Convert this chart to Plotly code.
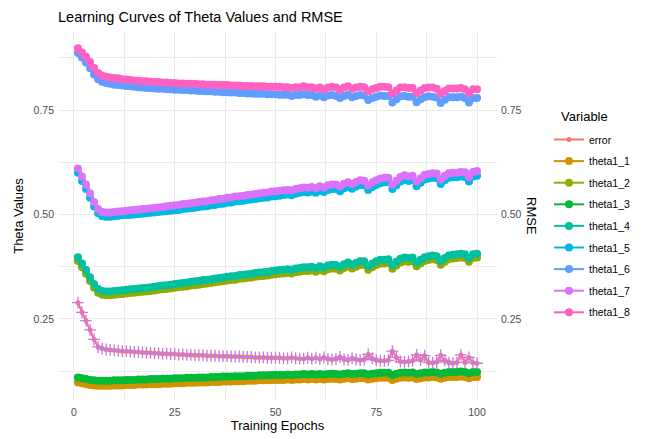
import plotly.graph_objects as go

epochs = list(range(1, 101))

error = [
    0.289, 0.266, 0.246, 0.224, 0.201, 0.183, 0.179, 0.177, 0.176, 0.175,
    0.174, 0.173, 0.173, 0.172, 0.171, 0.171, 0.170, 0.169, 0.169, 0.168,
    0.168, 0.167, 0.167, 0.166, 0.166, 0.165, 0.165, 0.164, 0.164, 0.163,
    0.163, 0.163, 0.162, 0.162, 0.162, 0.161, 0.161, 0.161, 0.160, 0.160,
    0.160, 0.159, 0.159, 0.159, 0.158, 0.158, 0.158, 0.157, 0.157, 0.157,
    0.157, 0.156, 0.156, 0.158, 0.156, 0.155, 0.155, 0.157, 0.155, 0.157,
    0.154, 0.158, 0.154, 0.153, 0.154, 0.159, 0.153, 0.152, 0.156, 0.153,
    0.151, 0.153, 0.165, 0.156, 0.151, 0.150, 0.150, 0.151, 0.173, 0.158,
    0.148, 0.147, 0.148, 0.150, 0.164, 0.152, 0.162, 0.146, 0.145, 0.147,
    0.163, 0.151, 0.145, 0.144, 0.146, 0.164, 0.146, 0.158, 0.145, 0.144,
]

theta1_1 = [
    0.098, 0.096, 0.094, 0.092, 0.091, 0.090, 0.090, 0.090, 0.090, 0.091,
    0.091, 0.091, 0.092, 0.092, 0.092, 0.093, 0.093, 0.093, 0.094, 0.094,
    0.094, 0.095, 0.095, 0.095, 0.096, 0.096, 0.096, 0.097, 0.097, 0.097,
    0.098, 0.098, 0.098, 0.099, 0.099, 0.099, 0.100, 0.100, 0.100, 0.101,
    0.101, 0.101, 0.102, 0.102, 0.102, 0.103, 0.103, 0.103, 0.104, 0.104,
    0.104, 0.104, 0.105, 0.104, 0.105, 0.105, 0.106, 0.105, 0.106, 0.105,
    0.106, 0.105, 0.106, 0.107, 0.106, 0.105, 0.107, 0.108, 0.106, 0.107,
    0.108, 0.108, 0.105, 0.107, 0.108, 0.109, 0.109, 0.109, 0.104, 0.107,
    0.109, 0.110, 0.109, 0.110, 0.106, 0.108, 0.110, 0.110, 0.111, 0.110,
    0.107, 0.109, 0.111, 0.111, 0.111, 0.112, 0.111, 0.108, 0.111, 0.111,
]

theta1_2 = [
    0.389, 0.374, 0.358, 0.341, 0.325, 0.313, 0.308, 0.307, 0.307, 0.308,
    0.309, 0.310, 0.311, 0.312, 0.313, 0.314, 0.315, 0.316, 0.317, 0.318,
    0.320, 0.321, 0.322, 0.323, 0.325, 0.326, 0.327, 0.328, 0.330, 0.331,
    0.332, 0.334, 0.335, 0.336, 0.338, 0.339, 0.340, 0.342, 0.343, 0.344,
    0.346, 0.347, 0.348, 0.349, 0.351, 0.352, 0.353, 0.354, 0.356, 0.357,
    0.358, 0.359, 0.360, 0.359, 0.362, 0.363, 0.365, 0.365, 0.366, 0.363,
    0.367, 0.364, 0.369, 0.371, 0.370, 0.366, 0.372, 0.376, 0.371, 0.375,
    0.379, 0.379, 0.368, 0.374, 0.379, 0.383, 0.383, 0.384, 0.370, 0.378,
    0.385, 0.388, 0.387, 0.388, 0.376, 0.383, 0.389, 0.391, 0.393, 0.391,
    0.380, 0.387, 0.393, 0.395, 0.396, 0.397, 0.396, 0.387, 0.396, 0.397,
]

theta1_3 = [
    0.110, 0.108, 0.106, 0.104, 0.103, 0.102, 0.102, 0.102, 0.102, 0.103,
    0.103, 0.103, 0.104, 0.104, 0.104, 0.105, 0.105, 0.105, 0.106, 0.106,
    0.106, 0.107, 0.107, 0.107, 0.108, 0.108, 0.108, 0.109, 0.109, 0.109,
    0.110, 0.110, 0.110, 0.111, 0.111, 0.111, 0.112, 0.112, 0.112, 0.113,
    0.113, 0.113, 0.114, 0.114, 0.114, 0.115, 0.115, 0.115, 0.116, 0.116,
    0.116, 0.116, 0.117, 0.116, 0.117, 0.117, 0.118, 0.117, 0.118, 0.117,
    0.118, 0.117, 0.118, 0.119, 0.118, 0.117, 0.119, 0.120, 0.118, 0.119,
    0.120, 0.120, 0.117, 0.119, 0.120, 0.121, 0.121, 0.121, 0.116, 0.119,
    0.121, 0.122, 0.121, 0.122, 0.118, 0.120, 0.122, 0.122, 0.123, 0.122,
    0.119, 0.121, 0.123, 0.123, 0.123, 0.124, 0.123, 0.120, 0.123, 0.123,
]

theta1_4 = [
    0.398, 0.383, 0.367, 0.350, 0.334, 0.322, 0.317, 0.316, 0.316, 0.317,
    0.318, 0.319, 0.320, 0.321, 0.322, 0.323, 0.324, 0.325, 0.326, 0.327,
    0.329, 0.330, 0.331, 0.332, 0.334, 0.335, 0.336, 0.337, 0.339, 0.340,
    0.341, 0.343, 0.344, 0.345, 0.347, 0.348, 0.349, 0.351, 0.352, 0.353,
    0.355, 0.356, 0.357, 0.358, 0.360, 0.361, 0.362, 0.363, 0.365, 0.366,
    0.367, 0.368, 0.369, 0.368, 0.371, 0.372, 0.374, 0.374, 0.375, 0.372,
    0.376, 0.373, 0.378, 0.380, 0.379, 0.375, 0.381, 0.385, 0.380, 0.384,
    0.388, 0.388, 0.377, 0.383, 0.388, 0.392, 0.392, 0.393, 0.379, 0.387,
    0.394, 0.397, 0.396, 0.397, 0.385, 0.392, 0.398, 0.400, 0.402, 0.400,
    0.389, 0.396, 0.402, 0.404, 0.405, 0.406, 0.405, 0.396, 0.405, 0.406,
]

theta1_5 = [
    0.600, 0.580, 0.561, 0.540, 0.519, 0.503, 0.496, 0.495, 0.495, 0.496,
    0.497, 0.498, 0.499, 0.499, 0.500, 0.501, 0.502, 0.503, 0.504, 0.505,
    0.506, 0.507, 0.508, 0.509, 0.510, 0.511, 0.513, 0.514, 0.515, 0.516,
    0.518, 0.519, 0.520, 0.522, 0.523, 0.525, 0.526, 0.528, 0.529, 0.531,
    0.532, 0.533, 0.535, 0.536, 0.537, 0.539, 0.540, 0.541, 0.543, 0.544,
    0.545, 0.547, 0.548, 0.546, 0.550, 0.552, 0.554, 0.553, 0.555, 0.552,
    0.557, 0.554, 0.559, 0.561, 0.561, 0.556, 0.563, 0.566, 0.562, 0.567,
    0.571, 0.570, 0.559, 0.566, 0.571, 0.575, 0.577, 0.577, 0.561, 0.570,
    0.579, 0.583, 0.580, 0.582, 0.568, 0.576, 0.584, 0.586, 0.588, 0.587,
    0.573, 0.582, 0.588, 0.589, 0.589, 0.591, 0.590, 0.579, 0.591, 0.593,
]

theta1_6 = [
    0.887, 0.876, 0.864, 0.850, 0.835, 0.824, 0.818, 0.815, 0.813, 0.811,
    0.810, 0.809, 0.808, 0.807, 0.806, 0.805, 0.804, 0.803, 0.803, 0.802,
    0.801, 0.801, 0.800, 0.800, 0.799, 0.799, 0.798, 0.798, 0.797, 0.797,
    0.796, 0.796, 0.795, 0.795, 0.794, 0.794, 0.793, 0.793, 0.792, 0.792,
    0.791, 0.791, 0.790, 0.790, 0.789, 0.789, 0.789, 0.788, 0.788, 0.788,
    0.787, 0.787, 0.787, 0.784, 0.786, 0.786, 0.788, 0.786, 0.786, 0.782,
    0.785, 0.781, 0.785, 0.786, 0.784, 0.779, 0.784, 0.787, 0.781, 0.784,
    0.786, 0.785, 0.774, 0.779, 0.782, 0.785, 0.784, 0.784, 0.768, 0.776,
    0.783, 0.784, 0.782, 0.782, 0.769, 0.776, 0.781, 0.783, 0.782, 0.780,
    0.767, 0.775, 0.781, 0.781, 0.781, 0.782, 0.779, 0.768, 0.779, 0.779,
]

theta1_7 = [
    0.610, 0.591, 0.572, 0.551, 0.530, 0.513, 0.506, 0.505, 0.505, 0.506,
    0.507, 0.508, 0.509, 0.510, 0.511, 0.512, 0.513, 0.514, 0.515, 0.516,
    0.517, 0.518, 0.520, 0.521, 0.522, 0.523, 0.525, 0.526, 0.527, 0.528,
    0.530, 0.531, 0.532, 0.534, 0.535, 0.537, 0.538, 0.540, 0.541, 0.543,
    0.544, 0.545, 0.547, 0.548, 0.549, 0.551, 0.552, 0.553, 0.555, 0.556,
    0.557, 0.558, 0.559, 0.558, 0.561, 0.563, 0.565, 0.564, 0.566, 0.563,
    0.568, 0.565, 0.570, 0.572, 0.572, 0.567, 0.574, 0.577, 0.573, 0.578,
    0.582, 0.581, 0.570, 0.577, 0.582, 0.586, 0.588, 0.588, 0.572, 0.581,
    0.590, 0.594, 0.591, 0.593, 0.579, 0.587, 0.595, 0.597, 0.599, 0.598,
    0.584, 0.593, 0.599, 0.600, 0.600, 0.602, 0.601, 0.590, 0.602, 0.604,
]

theta1_8 = [
    0.898, 0.888, 0.878, 0.865, 0.851, 0.839, 0.833, 0.830, 0.828, 0.827,
    0.826, 0.824, 0.823, 0.822, 0.821, 0.820, 0.819, 0.819, 0.818, 0.817,
    0.817, 0.816, 0.816, 0.815, 0.815, 0.814, 0.814, 0.813, 0.813, 0.813,
    0.812, 0.812, 0.811, 0.811, 0.811, 0.810, 0.810, 0.810, 0.809, 0.809,
    0.809, 0.808, 0.808, 0.808, 0.807, 0.807, 0.807, 0.806, 0.806, 0.806,
    0.806, 0.805, 0.805, 0.803, 0.805, 0.805, 0.807, 0.805, 0.805, 0.802,
    0.804, 0.800, 0.804, 0.806, 0.804, 0.799, 0.804, 0.807, 0.801, 0.804,
    0.806, 0.805, 0.795, 0.800, 0.803, 0.806, 0.806, 0.805, 0.790, 0.797,
    0.804, 0.805, 0.803, 0.803, 0.791, 0.797, 0.803, 0.804, 0.804, 0.801,
    0.790, 0.796, 0.802, 0.802, 0.802, 0.803, 0.800, 0.791, 0.800, 0.800,
]

variable_names = ["error", "theta1_1", "theta1_2", "theta1_3", "theta1_4",
                  "theta1_5", "theta1_6", "theta1_7", "theta1_8"]
series_values = [error, theta1_1, theta1_2, theta1_3, theta1_4,
                 theta1_5, theta1_6, theta1_7, theta1_8]
palette = ["#F8766D", "#D39200", "#93AA00", "#00BA38", "#00C19F",
           "#00B9E3", "#619CFF", "#DB72FB", "#FF61C3"]

x_ticks = [0, 25, 50, 75, 100]
y_ticks = [0.25, 0.50, 0.75]
y_tick_text = ["0.25", "0.50", "0.75"]

FONT = "Liberation Sans, Arial, Helvetica, sans-serif"
GRID = "#EBEBEB"
TICKCOL = "#4D4D4D"

# The page body has an 8px margin: figure is drawn 8px right/down of the window corner.
OFF = 8
W, H = 648 - OFF, 439 - OFF
L, R, T, B = 58 - OFF, 151, 32 - OFF, 39
PW = W - L - R
PH = H - T - B

fig = go.Figure()

for i, (name, vals, col) in enumerate(zip(variable_names, series_values, palette)):
    msize = 5 if name == "error" else 8
    fig.add_trace(go.Scatter(
        x=epochs, y=vals, mode="lines+markers", name=name,
        line=dict(color=col, width=2),
        marker=dict(size=msize, color=col),
        legendgroup=name, legendrank=i + 1,
    ))

# RMSE overlay: pink line with "+" markers
fig.add_trace(go.Scatter(
    x=epochs, y=error, mode="lines", showlegend=False,
    line=dict(color="#FF61C3", width=1.2), hoverinfo="skip",
))
fig.add_trace(go.Scatter(
    x=epochs, y=error, mode="markers", showlegend=False,
    marker=dict(symbol="cross-thin", size=8.5,
                line=dict(color="#C77CDD", width=1.3)),
    hoverinfo="skip",
))

y_range = [0.056, 0.937]
x_range = [-3.95, 104.95]

fig.update_layout(
    width=W, height=H,
    margin=dict(l=L, r=R, t=T, b=B),
    paper_bgcolor="white", plot_bgcolor="white",
    font=dict(family=FONT, color="black"),
    title=dict(text="Learning Curves of Theta Values and RMSE",
               font=dict(size=14.5, color="black", family=FONT),
               x=(58 - OFF) / W, xref="container", xanchor="left",
               y=1 - (17 - OFF) / H, yref="container", yanchor="middle",
               pad=dict(l=0, r=0, t=0, b=0)),
    xaxis=dict(range=x_range, tickvals=x_ticks, ticktext=[str(v) for v in x_ticks],
               showgrid=True, gridcolor=GRID, gridwidth=1.2, automargin=False,
               minor=dict(dtick=12.5, tick0=0, showgrid=True, gridcolor=GRID, gridwidth=0.6),
               zeroline=False, showline=False, ticks="", ticklabelstandoff=4,
               tickfont=dict(size=10.5, color=TICKCOL, family=FONT),
               title=dict(text="Training Epochs", font=dict(size=13, color="black", family=FONT),
                          standoff=4)),
    yaxis=dict(range=y_range, tickvals=y_ticks, ticktext=y_tick_text,
               showgrid=True, gridcolor=GRID, gridwidth=1.2, automargin=False,
               minor=dict(dtick=0.125, tick0=0, showgrid=True, gridcolor=GRID, gridwidth=0.6),
               zeroline=False, showline=False, ticks="", ticklabelstandoff=3,
               tickfont=dict(size=10.5, color=TICKCOL, family=FONT),
               title=dict(text="Theta Values", font=dict(size=13, color="black", family=FONT),
                          standoff=7)),
    yaxis2=dict(range=y_range, tickvals=y_ticks, ticktext=y_tick_text,
                overlaying="y", side="right", showgrid=False, zeroline=False,
                showline=False, ticks="", automargin=False, ticklabelstandoff=3,
                tickfont=dict(size=10.5, color=TICKCOL, family=FONT)),
    legend=dict(x=(549 - OFF - L) / PW, xanchor="left",
                y=(H - B - (125 - OFF)) / PH, yanchor="top",
                font=dict(size=10.5, color="black", family=FONT),
                tracegroupgap=2.6, traceorder="grouped",
                bgcolor="rgba(0,0,0,0)"),
    annotations=[
        dict(text="RMSE", textangle=90, xref="paper", yref="paper",
             x=(532 - OFF - L) / PW, y=0.5, xanchor="center", yanchor="middle",
             showarrow=False, font=dict(size=13, color="black", family=FONT)),
        dict(text="Variable", xref="paper", yref="paper",
             x=(559 - OFF - L) / PW, y=(H - B - (116 - OFF)) / PH,
             xanchor="left", yanchor="middle", showarrow=False,
             font=dict(size=13, color="black", family=FONT)),
    ],
    showlegend=True,
)

# invisible helper on y2 so the right axis renders
fig.add_trace(go.Scatter(x=[epochs[0]], y=[error[0]], yaxis="y2", mode="markers",
                         marker=dict(opacity=0), showlegend=False, hoverinfo="skip"))

fig.write_html("out.html")
